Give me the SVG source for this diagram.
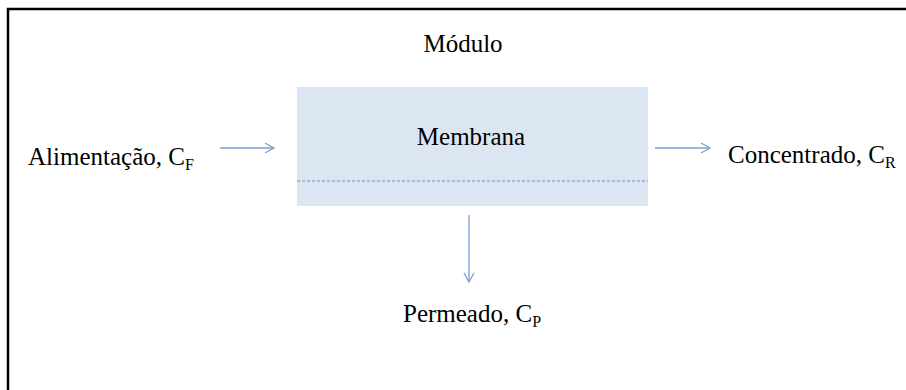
<svg xmlns="http://www.w3.org/2000/svg" width="906" height="390" viewBox="0 0 906 390">
<style>
.t{font-family:"Liberation Serif","Times New Roman",serif;font-size:25px;fill:#000}
.s{font-size:16px}
.c{stroke:#7e9fcc;stroke-width:1.3;fill:none}
</style>
<defs>
<marker id="ah" markerWidth="12" markerHeight="12" refX="10" refY="6" orient="auto" markerUnits="userSpaceOnUse">
<path d="M1,1 L10,6 L1,11" fill="none" stroke="#7e9fcc" stroke-width="1.3"/>
</marker>
</defs>
<rect width="906" height="390" fill="#fff"/>
<g id="frame">
<path d="M8,390 V9 H906" fill="none" stroke="#000" stroke-width="2.5"/>
</g>
<g id="modulo"><text class="t" x="463" y="52" text-anchor="middle">Módulo</text></g>
<g id="membrana">
<rect x="297" y="87" width="351" height="119" fill="#dce6f2"/>
<line x1="297" y1="181" x2="648" y2="181" stroke="#6f90c0" stroke-width="1" stroke-dasharray="3,2"/>
<text class="t" x="471" y="145" text-anchor="middle">Membrana</text>
</g>
<g id="alimentacao"><text class="t" x="28" y="165">Alimentação, C<tspan class="s" dy="5">F</tspan></text></g>
<g id="concentrado"><text class="t" x="728" y="163">Concentrado, C<tspan class="s" dy="5">R</tspan></text></g>
<g id="permeado"><text class="t" x="403" y="322">Permeado, C<tspan class="s" dy="5">P</tspan></text></g>
<g id="connectors">
<line class="c" x1="220" y1="148" x2="274" y2="148" marker-end="url(#ah)"/>
<line class="c" x1="655" y1="148" x2="710" y2="148" marker-end="url(#ah)"/>
<line class="c" x1="469" y1="215" x2="469" y2="282" marker-end="url(#ah)"/>
</g>
</svg>
